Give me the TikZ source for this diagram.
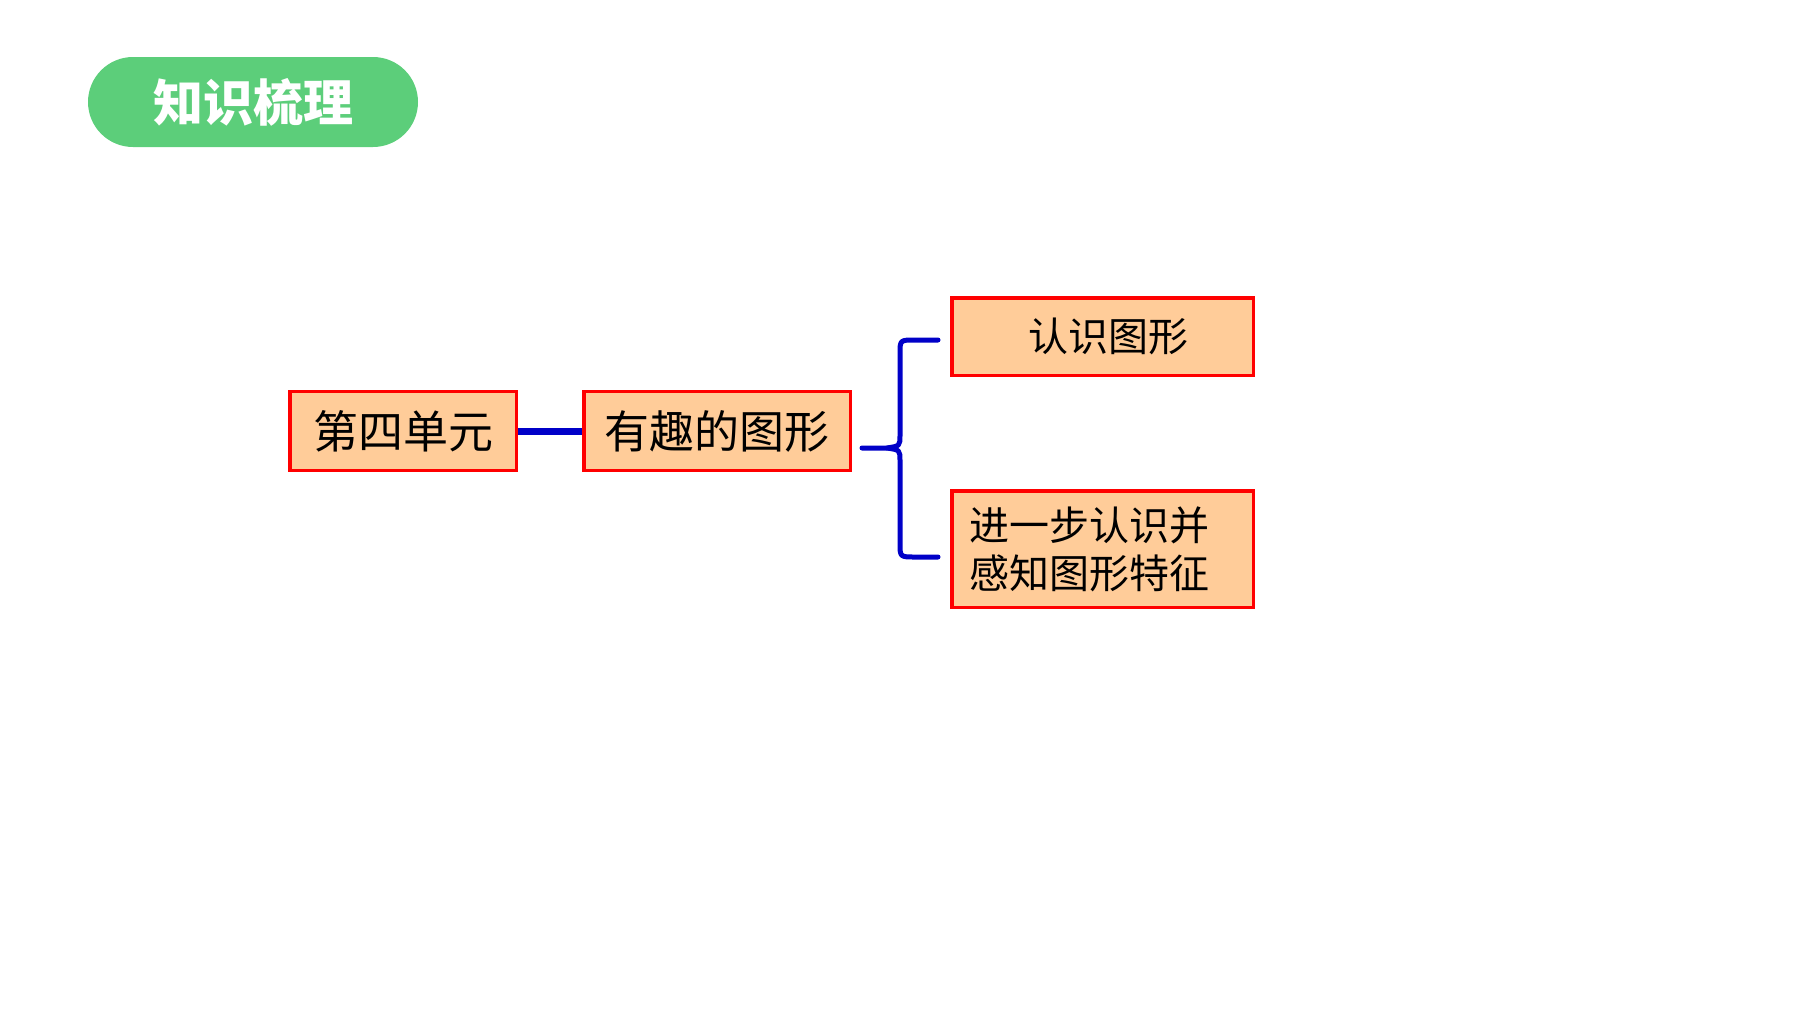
\documentclass[tikz,border=0pt]{standalone}
\usepackage{fontspec}
\newfontfamily\cjk{Noto Sans CJK SC}
\usetikzlibrary{positioning}
\definecolor{titlegreen}{RGB}{92,206,122}
\definecolor{peach}{RGB}{255,204,153}
\definecolor{linkblue}{RGB}{0,0,200}
\begin{document}
\begin{tikzpicture}[x=1pt,y=-1pt,
  box/.style={draw=red,line width=3.5pt,fill=peach,minimum height=79pt,inner sep=0pt,font=\cjk\fontsize{45}{52}\selectfont},
  link/.style={draw=linkblue,line width=7pt},
  brace/.style={draw=linkblue,line width=5pt,line cap=round,line join=round}]
\useasboundingbox (0,0) rectangle (1800,1012);
\node[fill=titlegreen,rounded corners=45pt,minimum width=330pt,minimum height=90pt,inner sep=0pt,text=white,font=\cjk\bfseries\fontsize{50}{60}\selectfont] (title) at (253,102) {知识梳理};
\node[box,minimum width=226.5pt] (unit) at (403,431) {第四单元};
\node[box,minimum width=266.5pt] (fun) at (717,431) {有趣的图形};
\node[box,minimum width=301.5pt,minimum height=77.5pt,font=\cjk\fontsize{40}{47}\selectfont] (know) at (1102.5,336.5) {\hspace*{12pt}认识图形};
\node[box,minimum width=301.5pt,minimum height=116.5pt,text width=267pt,align=left,font=\cjk\fontsize{40}{48}\selectfont] (feat) at (1102.5,549) {进一步认识并\\感知图形特征};
\draw[link] (unit) -- (fun);
% brace
\coordinate (top) at (938,340);
\coordinate (bot) at (938,557);
\coordinate (tip) at (862,448);
\draw[brace] (top) -- (915,340) .. controls (900,340) .. (900,354) -- (900,435) .. controls (900,446) .. (887,448) -- (tip);
\draw[brace] (bot) -- (915,557) .. controls (900,557) .. (900,543) -- (900,461) .. controls (900,450) .. (887,448);
\end{tikzpicture}
\end{document}
